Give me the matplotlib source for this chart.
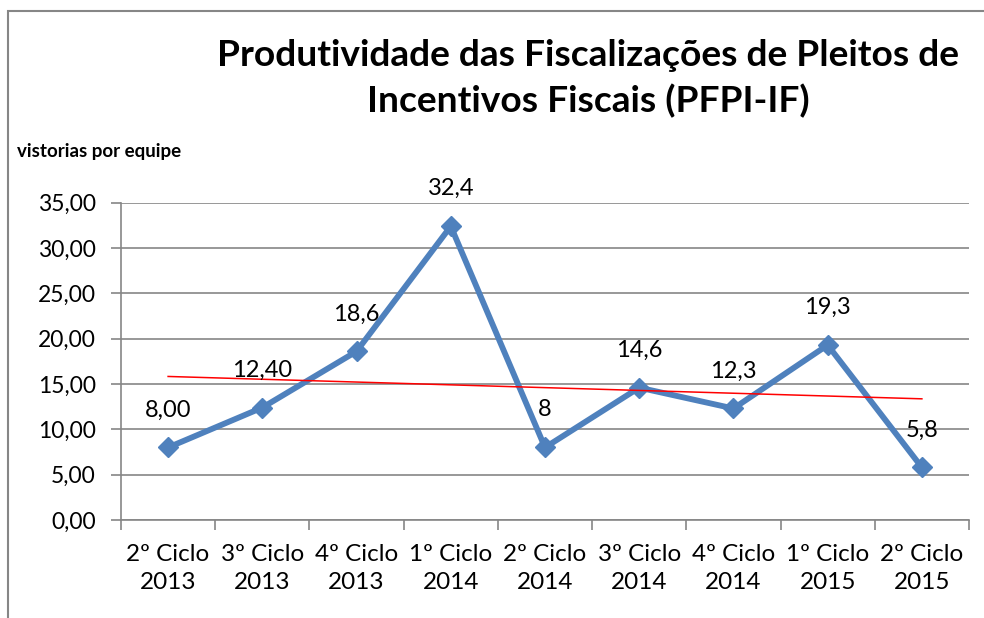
import matplotlib
matplotlib.use("Agg")
import matplotlib.pyplot as plt
import numpy as np
from matplotlib.patches import Rectangle

# data
categories = ["2º Ciclo\n2013", "3º Ciclo\n2013", "4º Ciclo\n2013", "1º Ciclo\n2014",
              "2º Ciclo\n2014", "3º Ciclo\n2014", "4º Ciclo\n2014", "1º Ciclo\n2015",
              "2º Ciclo\n2015"]
values = [8.00, 12.40, 18.6, 32.4, 8, 14.6, 12.3, 19.3, 5.8]
value_labels = ["8,00", "12,40", "18,6", "32,4", "8", "14,6", "12,3", "19,3", "5,8"]
y_ticks = [0, 5, 10, 15, 20, 25, 30, 35]

BLUE = "#4F81BD"
GRID = "#868686"
FONT = "Lato"

plt.rcParams["font.family"] = [FONT, "DejaVu Sans"]

fig = plt.figure(figsize=(9.84, 6.18), dpi=100)
ax = fig.add_axes([121 / 984, 98 / 618, (969 - 121) / 984, (520 - 202.7) / 618])

x = np.arange(len(values))
ax.plot(x, values, color=BLUE, lw=4.2, marker="D", ms=10.5, mec=BLUE, mfc=BLUE,
        solid_joinstyle="miter", zorder=3)

# linear trend line (as in the spreadsheet)
slope, intercept = np.polyfit(x, values, 1)
ax.plot(x, slope * x + intercept, color="red", lw=1.1, zorder=4)

for xi, v, lab in zip(x, values, value_labels):
    ax.annotate(lab, (xi, v), xytext=(0, 27), textcoords="offset points",
                ha="center", va="center", fontsize=17, color="black", zorder=5)

ax.set_xlim(-0.5, len(values) - 0.5)
ax.set_ylim(0, 35)
ax.set_yticks(y_ticks)
ax.set_yticklabels([f"{t:.2f}".replace(".", ",") for t in y_ticks], fontsize=16.5)
ax.set_xticks(x)
ax.set_xticklabels(categories, fontsize=17.5, linespacing=1.42)
ax.set_xticks(np.arange(len(values) + 1) - 0.5, minor=True)
ax.tick_params(axis="x", which="major", length=0, pad=17)
ax.tick_params(axis="x", which="minor", length=7, color=GRID, width=1.2)
ax.tick_params(axis="y", length=7, color=GRID, width=1.2, pad=11)

ax.yaxis.grid(True, color=GRID, lw=1.2)
ax.set_axisbelow(True)
for side in ["top", "right"]:
    ax.spines[side].set_visible(False)
for side in ["left", "bottom"]:
    ax.spines[side].set_color(GRID)
    ax.spines[side].set_linewidth(1.2)

fig.text(588 / 984, 1 - 79 / 618,
         "Produtividade das Fiscalizações de Pleitos de\nIncentivos Fiscais (PFPI-IF)",
         ha="center", va="center", fontsize=26.7, fontweight="bold", linespacing=1.42)
fig.text(17 / 984, 1 - 152 / 618, "vistorias por equipe", ha="left", va="center",
         fontsize=13.5, fontweight="bold")

# chart border (cut off at right and bottom in the reference)
fig.patches.append(Rectangle((8 / 984, -0.1), 1.2, 1 - 11 / 618 + 0.1,
                             transform=fig.transFigure, fill=False,
                             edgecolor=GRID, lw=1.5, clip_on=False))

fig.savefig("out.png", dpi=100)
